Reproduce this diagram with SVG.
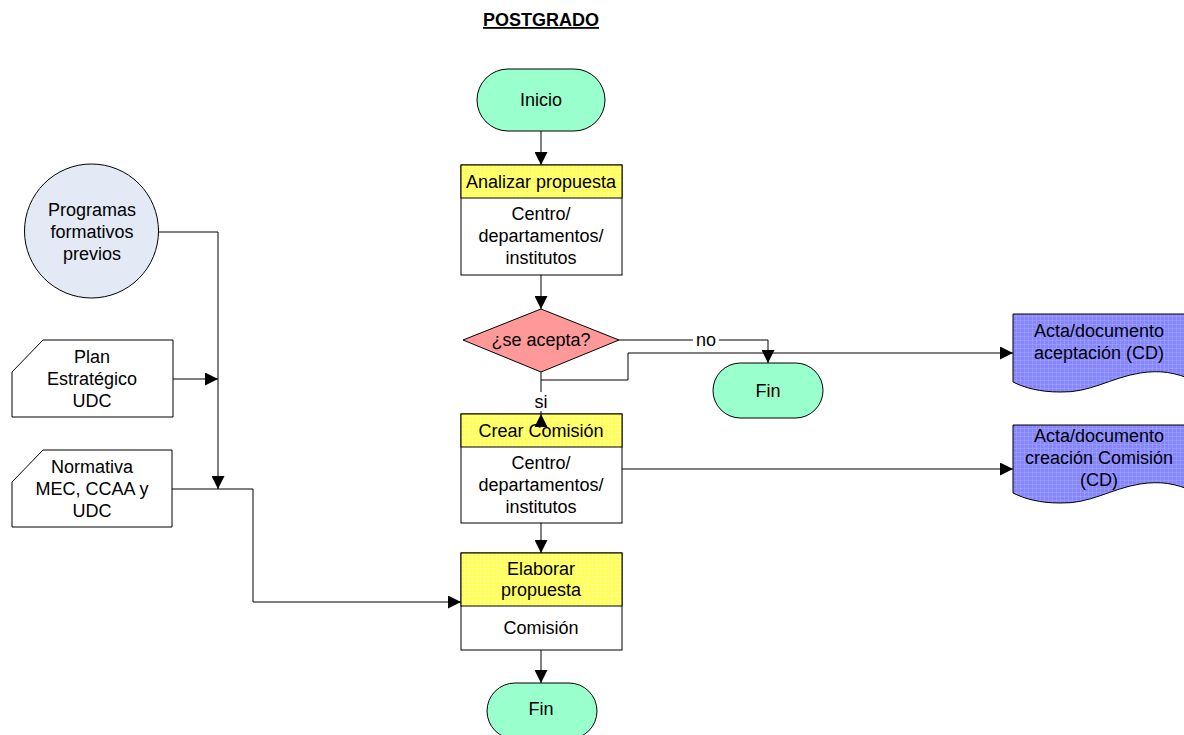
<svg xmlns="http://www.w3.org/2000/svg" width="1184" height="735" viewBox="0 0 1184 735">
<style>
text{font-family:"Liberation Sans",Arial,sans-serif;font-size:18px;fill:#000;text-anchor:middle}
.s{stroke:#000;stroke-width:1;fill:none}
.shape{stroke:#000;stroke-width:1}
.term{fill:#99FFCC}
.hdr{fill:url(#ygrid)}
.body{fill:#fff}
.doc{fill:url(#bgrid)}
</style>
<defs>
<pattern id="ygrid" width="4" height="4" patternUnits="userSpaceOnUse">
<rect width="4" height="4" fill="#FFFF55"/>
<path d="M0,0H4M0,0V4" stroke="#FFFFAA" stroke-width="1"/>
</pattern>
<pattern id="bgrid" width="4" height="4" patternUnits="userSpaceOnUse">
<rect width="4" height="4" fill="#8585FF"/>
<path d="M0,0H4M0,0V4" stroke="#A8A8FF" stroke-width="1"/>
</pattern>
<marker id="ah" viewBox="0 0 10 10" refX="10" refY="5" markerWidth="13" markerHeight="13" markerUnits="userSpaceOnUse" orient="auto">
<path d="M0,0L10,5L0,10z" fill="#000"/>
</marker>
</defs>
<rect width="1184" height="735" fill="#fff"/>

<g id="title">
<text x="541" y="26" style="font-weight:bold;text-decoration:underline">POSTGRADO</text>
</g>

<g id="inicio">
<rect class="shape term" x="477" y="69" width="128" height="62" rx="31" ry="31"/>
<text x="541" y="106">Inicio</text>
</g>

<g id="analizar">
<rect class="shape body" x="461" y="165" width="161" height="110"/>
<rect class="shape hdr" x="461" y="165" width="161" height="33"/>
<text x="541" y="188">Analizar propuesta</text>
<text x="541" y="220">Centro/</text>
<text x="541" y="242">departamentos/</text>
<text x="541" y="264">institutos</text>
</g>

<g id="decision">
<path class="shape" fill="#FF9999" d="M541,309L619,340L541,372L463,340Z"/>
<text x="541" y="346">¿se acepta?</text>
</g>

<g id="fin1">
<rect class="shape term" x="713" y="363" width="110" height="55" rx="27.5" ry="27.5"/>
<text x="768" y="397">Fin</text>
</g>

<g id="crear">
<rect class="shape body" x="461" y="414" width="161" height="109"/>
<rect class="shape hdr" x="461" y="414" width="161" height="33"/>
<text x="541" y="437">Crear Comisión</text>
<text x="541" y="469">Centro/</text>
<text x="541" y="491">departamentos/</text>
<text x="541" y="513">institutos</text>
</g>

<g id="elaborar">
<rect class="shape body" x="461" y="553" width="161" height="97"/>
<rect class="shape hdr" x="461" y="553" width="161" height="53"/>
<text x="541" y="575">Elaborar</text>
<text x="541" y="596">propuesta</text>
<text x="541" y="634">Comisión</text>
</g>

<g id="fin2">
<rect class="shape term" x="487" y="683" width="110" height="56" rx="28" ry="28"/>
<text x="541" y="715">Fin</text>
</g>

<g id="programas">
<circle class="shape" fill="#E3EAF5" cx="91.5" cy="231" r="67"/>
<text x="92" y="216">Programas</text>
<text x="92" y="238">formativos</text>
<text x="92" y="260">previos</text>
</g>

<g id="plan">
<path class="shape" fill="#fff" d="M43,340H173V417H12V372Z"/>
<text x="92" y="363">Plan</text>
<text x="92" y="385">Estratégico</text>
<text x="92" y="407">UDC</text>
</g>

<g id="normativa">
<path class="shape" fill="#fff" d="M43,450H172V527H12V482Z"/>
<text x="92" y="473">Normativa</text>
<text x="92" y="495">MEC, CCAA y</text>
<text x="92" y="517">UDC</text>
</g>

<g id="acta1">
<path class="shape doc" d="M1013,314H1195V381C1175,372 1160,370 1140,373C1110,378 1090,393 1060,392C1040,392 1025,388 1013,382Z"/>
<text x="1099" y="337">Acta/documento</text>
<text x="1099" y="359">aceptación (CD)</text>
</g>

<g id="acta2">
<path class="shape doc" d="M1013,425H1195V492C1175,483 1160,481 1140,484C1110,489 1090,504 1060,503C1040,503 1025,499 1013,493Z"/>
<text x="1099" y="442">Acta/documento</text>
<text x="1099" y="464">creación Comisión</text>
<text x="1099" y="486">(CD)</text>
</g>

<g id="connectors">
<path class="s" d="M541,131V165" marker-end="url(#ah)"/>
<path class="s" d="M541,275V309" marker-end="url(#ah)"/>
<path class="s" d="M619,340H768V363" marker-end="url(#ah)"/>
<path class="s" d="M541,372V380H628V353H1013" marker-end="url(#ah)"/>
<path class="s" d="M541,380V414"/>
<path class="s" d="M541,427V414" marker-end="url(#ah)"/>
<path class="s" d="M622,469H1013" marker-end="url(#ah)"/>
<path class="s" d="M541,523V553" marker-end="url(#ah)"/>
<path class="s" d="M541,650V683" marker-end="url(#ah)"/>
<path class="s" d="M158,232H218V489" marker-end="url(#ah)"/>
<path class="s" d="M173,379H218" marker-end="url(#ah)"/>
<path class="s" d="M172,489H253V602H461" marker-end="url(#ah)"/>
<rect x="693" y="331" width="26" height="18" fill="#fff"/>
<text x="706" y="346">no</text>
<rect x="531" y="392" width="20" height="19" fill="#fff"/>
<text x="541" y="408">si</text>
</g>
</svg>
